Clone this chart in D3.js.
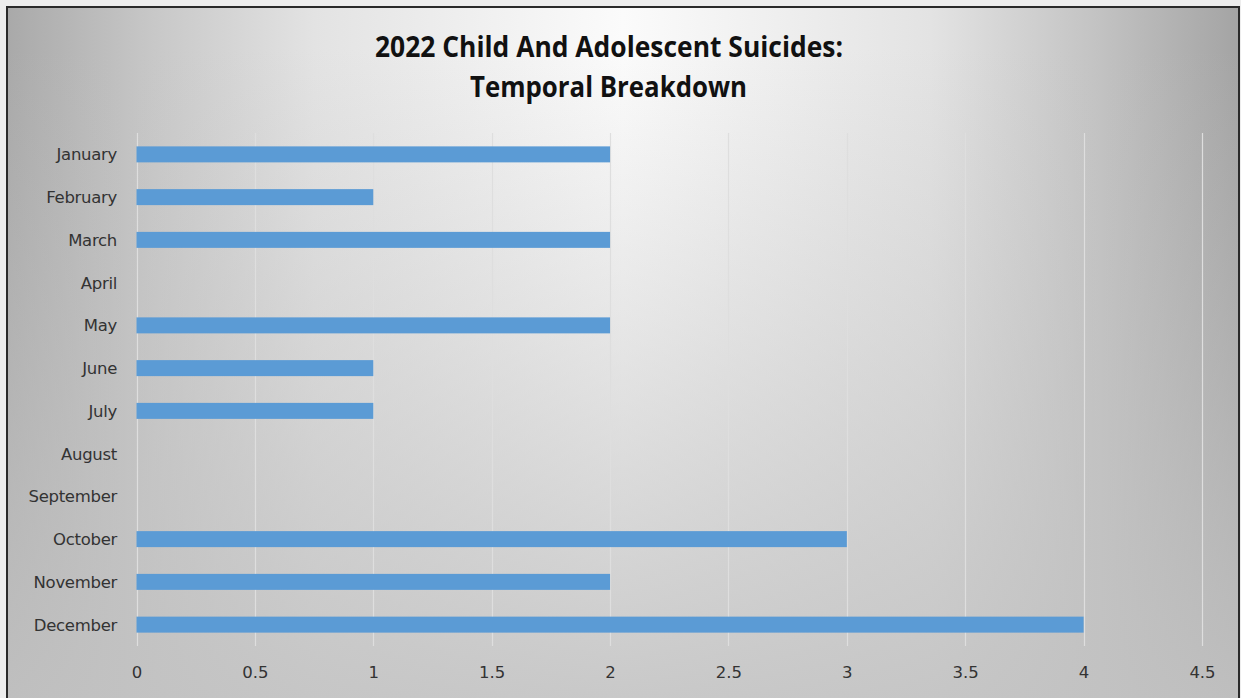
<!DOCTYPE html>
<html>
<head>
<meta charset="utf-8">
<script src="https://cdn.jsdelivr.net/npm/d3@7"></script>
<style>
html,body{margin:0;padding:0;background:#ececec;overflow:hidden;}
svg{display:block;}
</style>
</head>
<body>
<script>
const months = ["January","February","March","April","May","June","July","August","September","October","November","December"];
const suicides = [2,1,2,0,2,1,1,0,0,3,2,4];
const xTicks = [0,0.5,1,1.5,2,2.5,3,3.5,4,4.5];
const titleLines = ["2022 Child And Adolescent Suicides:","Temporal Breakdown"];

const W = 1241, H = 698;
const svg = d3.select("body").append("svg").attr("width", W).attr("height", H);

const defs = svg.append("defs");
const hg = defs.append("linearGradient").attr("id","hg")
  .attr("gradientUnits","userSpaceOnUse").attr("x1",7).attr("y1",0).attr("x2",1239).attr("y2",0);
[[0,"#a9a9a9"],[0.12,"#c8c8c8"],[0.25,"#e3e3e3"],[0.5,"#fbfbfb"],[0.75,"#e3e3e3"],[0.88,"#c4c4c4"],[1,"#a4a4a4"]]
  .forEach(([o,c]) => hg.append("stop").attr("offset",o).attr("stop-color",c));
const vg = defs.append("linearGradient").attr("id","vg")
  .attr("gradientUnits","userSpaceOnUse").attr("x1",0).attr("y1",7).attr("x2",0).attr("y2",698);
[[0,"#c2c2c2",0],[0.06,"#c2c2c2",0],[0.45,"#c2c2c2",0.35],[1,"#c2c2c2",0.88]]
  .forEach(([o,c,a]) => vg.append("stop").attr("offset",o).attr("stop-color",c).attr("stop-opacity",a));

svg.append("rect").attr("x",0).attr("y",0).attr("width",W).attr("height",H).attr("fill","#ededed");
svg.append("rect").attr("x",7).attr("y",7).attr("width",1232).attr("height",720).attr("fill","url(#hg)");
svg.append("rect").attr("x",7).attr("y",7).attr("width",1232).attr("height",720).attr("fill","url(#vg)");
svg.append("rect").attr("x",7).attr("y",7).attr("width",1232).attr("height",720)
  .attr("fill","none").attr("stroke","#2a2a2a").attr("stroke-width",2);

const x = d3.scaleLinear().domain([0,4.5]).range([136.5,1202]);
const y = d3.scaleBand().domain(months).range([133,646]).paddingInner(0.626).paddingOuter(0.313);

// gridlines
svg.append("g").selectAll("line").data(xTicks).join("line")
  .attr("x1",d=>Math.round(x(d))+0.5).attr("x2",d=>Math.round(x(d))+0.5)
  .attr("y1",133).attr("y2",646)
  .attr("stroke","#dedede").attr("stroke-width",1.2);

// bars
svg.append("g").selectAll("rect").data(months.map((m,i)=>({m,v:suicides[i]}))).join("rect")
  .attr("x",x(0)).attr("y",d=>y(d.m)).attr("height",y.bandwidth())
  .attr("width",d=>x(d.v)-x(0)).attr("fill","#5b9bd5");

// x axis
const xAxis = d3.axisBottom(x).tickValues(xTicks).tickSize(0).tickPadding(0).tickFormat(d=>String(d));
const gx = svg.append("g").attr("transform","translate(0,678)").call(xAxis);
gx.select(".domain").remove();
gx.selectAll("text").attr("dy",0).attr("font-family","DejaVu Sans, sans-serif")
  .attr("font-size",16.5).attr("fill","#333");

// y axis
const yAxis = d3.axisLeft(y).tickSize(0).tickPadding(0);
const gy = svg.append("g").attr("transform","translate(117,0)").call(yAxis);
gy.select(".domain").remove();
gy.selectAll("text").attr("dy","0.36em").attr("font-family","DejaVu Sans, sans-serif")
  .attr("font-size",16.5).attr("fill","#333").attr("letter-spacing","-0.3px");

// title
const tw = [468, 277];
const tx = [375, 470];
const ty = [56.5, 96.5];
svg.append("g").selectAll("text").data(titleLines).join("text")
  .attr("x",(d,i)=>tx[i]).attr("y",(d,i)=>ty[i])
  .attr("textLength",(d,i)=>tw[i]).attr("lengthAdjust","spacingAndGlyphs")
  .attr("font-family","Open Sans, sans-serif").attr("font-weight","bold")
  .attr("font-size",28).attr("fill","#111").text(d=>d);
</script>
</body>
</html>
